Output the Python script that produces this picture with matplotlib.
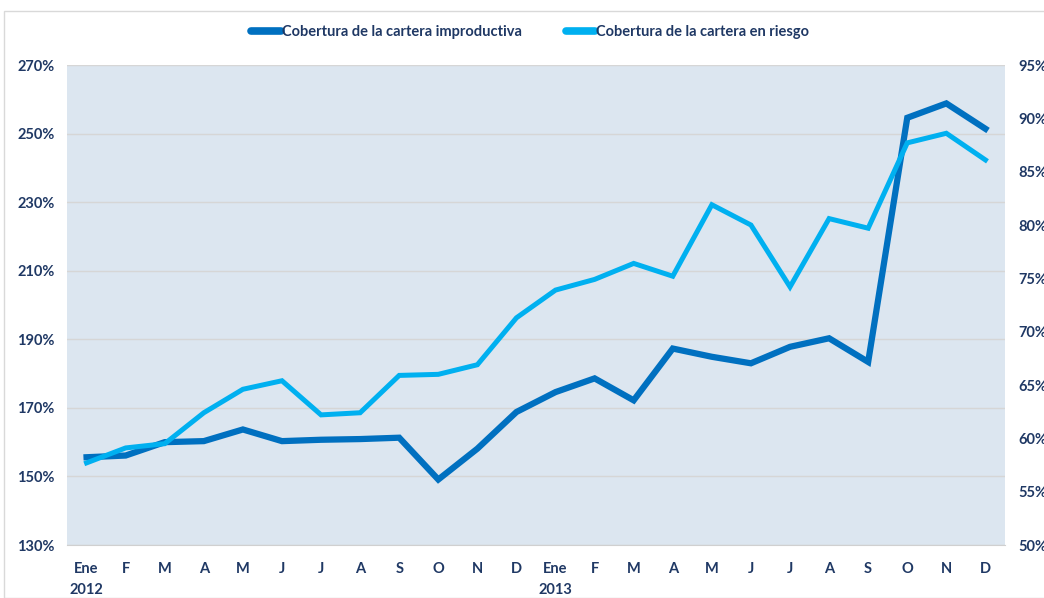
import numpy as np
import matplotlib.pyplot as plt
from matplotlib.lines import Line2D
from matplotlib.patches import Rectangle

plt.rcParams['font.family'] = ['Lato', 'DejaVu Sans']

meses = ['Ene\n2012', 'F', 'M', 'A', 'M', 'J', 'J', 'A', 'S', 'O', 'N', 'D',
         'Ene\n2013', 'F', 'M', 'A', 'M', 'J', 'J', 'A', 'S', 'O', 'N', 'D']
improductiva = [155.6, 156.1, 160.0, 160.3, 163.7, 160.3, 160.7, 160.9, 161.3, 149.1, 158.1, 168.8,
                174.6, 178.6, 172.2, 187.3, 184.9, 183.0, 187.8, 190.3, 183.4, 254.6, 258.8, 251.4]
en_riesgo = [57.7, 59.1, 59.5, 62.4, 64.6, 65.4, 62.2, 62.4, 65.9, 66.0, 66.9, 71.3,
             73.9, 74.9, 76.4, 75.2, 81.9, 80.0, 74.2, 80.6, 79.7, 87.7, 88.6, 86.1]

navy = '#1f3864'
c_dark = '#0070c0'
c_light = '#00b0f0'

fig = plt.figure(figsize=(10.44, 5.98), dpi=100)
fig.patches.append(Rectangle((0.004, 0.0), 1.2, 0.982, transform=fig.transFigure,
                             fill=False, edgecolor='#d9d9d9', lw=1))
ax = fig.add_axes([0.0642, 0.0886, 0.8984, 0.8027])
ax2 = ax.twinx()

x = np.arange(len(meses))
ax.plot(x, improductiva, color=c_dark, lw=4.5, solid_joinstyle='miter', zorder=3)
ax2.plot(x, en_riesgo, color=c_light, lw=3.6, solid_joinstyle='miter', zorder=4)

ax.set_facecolor('#dce6f0')
ax.set_xlim(-0.5, len(meses) - 0.5)
ax.set_ylim(130, 270)
ax.set_yticks(np.arange(130, 271, 20))
ax.set_yticklabels([f'{v}%' for v in range(130, 271, 20)])
ax2.set_ylim(50, 95)
ax2.set_yticks(np.arange(50, 96, 5))
ax2.set_yticklabels([f'{v}%' for v in range(50, 96, 5)])
ax.set_xticks(x)
ax.set_xticklabels(meses, linespacing=1.65)

ax.grid(axis='y', color='#d6d6d6', lw=1)
ax.set_axisbelow(True)
for a in (ax, ax2):
    for s in a.spines.values():
        s.set_visible(False)
ax.spines['bottom'].set_visible(True)
ax.spines['bottom'].set_color('#d0d0d0')

ax.tick_params(axis='both', length=0, labelsize=10.5, labelcolor=navy)
ax.tick_params(axis='x', pad=12)
ax.tick_params(axis='y', pad=9)
ax2.tick_params(axis='y', length=0, labelsize=10.5, labelcolor=navy, pad=10)
for lab in ax.get_xticklabels() + ax.get_yticklabels() + ax2.get_yticklabels():
    lab.set_fontweight('bold')

handles = [Line2D([], [], color=c_dark, lw=5.5, solid_capstyle='round'),
           Line2D([], [], color=c_light, lw=5.5, solid_capstyle='round')]
fig.legend(handles, ['Cobertura de la cartera improductiva', 'Cobertura de la cartera en riesgo'],
           loc='center', bbox_to_anchor=(0.508, 0.946), ncol=2, frameon=False,
           handlelength=2.0, handletextpad=0.1, columnspacing=3.0,
           prop={'weight': 'bold', 'size': 10.5}, labelcolor=navy)

fig.savefig('out.png', dpi=100)
